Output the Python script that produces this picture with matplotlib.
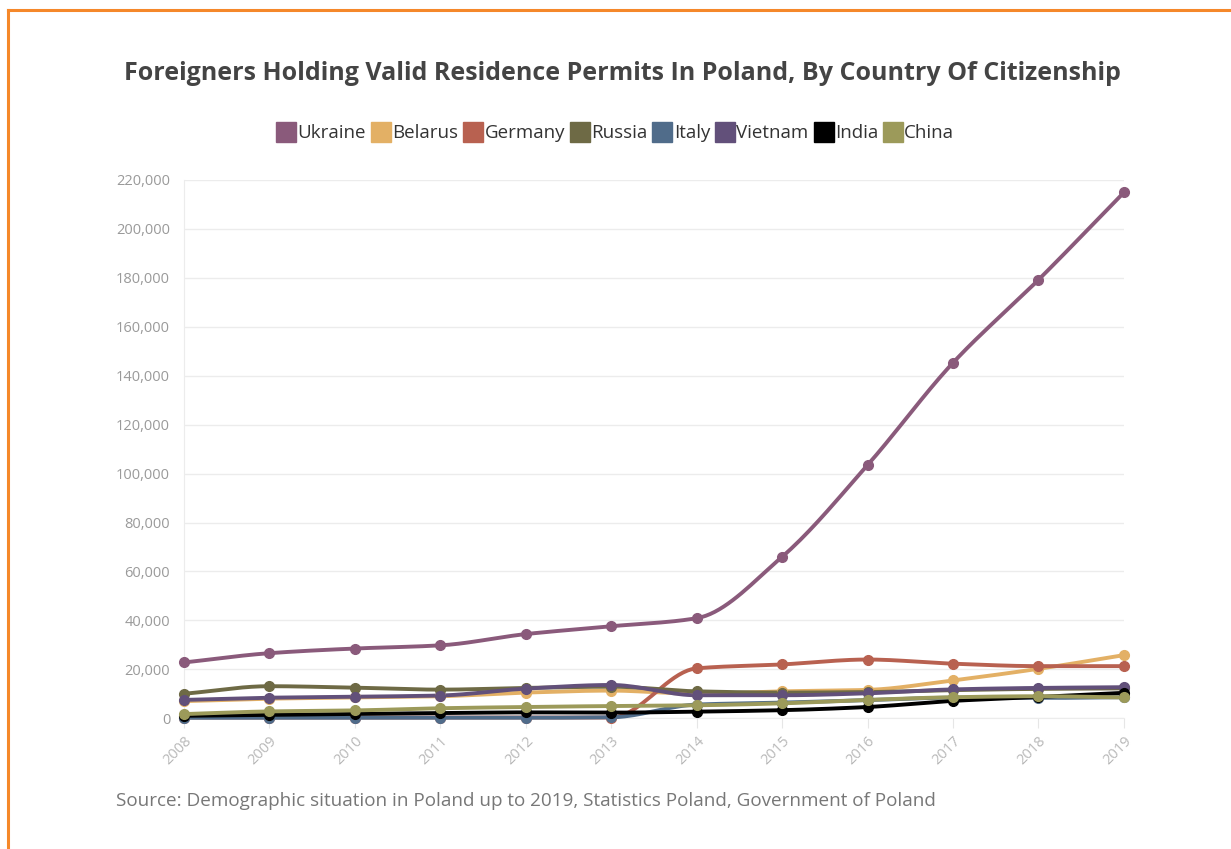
import matplotlib.pyplot as plt
import numpy as np
from matplotlib.lines import Line2D

plt.rcParams['font.family'] = ['Open Sans', 'DejaVu Sans']

# Data
years = [2008, 2009, 2010, 2011, 2012, 2013, 2014, 2015, 2016, 2017, 2018, 2019]
ukraine = [22800, 26600, 28500, 29800, 34400, 37600, 40900, 66000, 103500, 145300, 179200, 214900]
belarus = [7000, 8000, 8500, 9000, 10500, 11300, 10000, 11000, 11600, 15500, 20200, 25800]
germany = [300, 300, 300, 300, 300, 300, 20400, 22000, 24000, 22300, 21300, 21300]
russia = [10000, 13100, 12500, 11700, 12400, 12900, 11000, 10500, 10700, 11500, 12000, 12200]
italy = [200, 200, 200, 200, 200, 400, 5600, 6400, 7400, 8400, 8300, 8600]
vietnam = [7500, 8400, 8800, 9300, 12100, 13600, 9400, 9400, 10200, 11800, 12400, 12700]
india = [1000, 1400, 1800, 2100, 2400, 2300, 2700, 3300, 4600, 7100, 8700, 10400]
china = [1700, 2800, 3200, 4100, 4600, 5000, 5300, 6100, 7500, 8600, 9000, 8500]

names = ['Ukraine', 'Belarus', 'Germany', 'Russia', 'Italy', 'Vietnam', 'India', 'China']
series = [ukraine, belarus, germany, russia, italy, vietnam, india, china]
colors = ['#8a5a7b', '#e3b065', '#b86150', '#6e6a45', '#506c8a', '#62507a', '#000000', '#9c9a5a']


def smooth(x, y, n=20):
    # monotone cubic (Fritsch-Carlson) curve through the data points, for drawing only
    x = np.asarray(x, float)
    y = np.asarray(y, float)
    h = np.diff(x)
    d = np.diff(y) / h
    m = np.zeros_like(y)
    m[0], m[-1] = d[0], d[-1]
    for i in range(1, len(y) - 1):
        if d[i - 1] * d[i] <= 0:
            m[i] = 0
        else:
            m[i] = 2 / (1 / d[i - 1] + 1 / d[i])
    xs, ys = [], []
    for i in range(len(x) - 1):
        t = np.linspace(0, 1, n)
        h00 = 2 * t**3 - 3 * t**2 + 1
        h10 = t**3 - 2 * t**2 + t
        h01 = -2 * t**3 + 3 * t**2
        h11 = t**3 - t**2
        xs.append(x[i] + t * h[i])
        ys.append(h00 * y[i] + h10 * h[i] * m[i] + h01 * y[i + 1] + h11 * h[i] * m[i + 1])
    return np.concatenate(xs), np.concatenate(ys)


fig = plt.figure(figsize=(12.31, 8.49), dpi=100)
ax = fig.add_axes([0.1495, 0.154, 0.7635, 0.634])

for name, vals, c in zip(names, series, colors):
    sx, sy = smooth(years, vals)
    ax.plot(sx, sy, color=c, linewidth=2.8, zorder=3, solid_capstyle='round', clip_on=False)
    ax.plot(years, vals, 'o', color=c, markersize=7, zorder=4, clip_on=False)

ax.set_xlim(2008, 2019)
ax.set_ylim(0, 220000)
ax.set_yticks(np.arange(0, 220001, 20000))
ax.set_yticklabels([f'{v:,}' for v in range(0, 220001, 20000)])
ax.set_xticks(years)
ax.set_xticklabels([str(y) for y in years], rotation=45, ha='right', rotation_mode='anchor')
ax.grid(axis='y', color='#ececec', linewidth=1)
for s in ['top', 'right']:
    ax.spines[s].set_visible(False)
ax.spines['left'].set_color('#ececec')
ax.spines['bottom'].set_color('#ececec')
ax.tick_params(axis='y', length=0, labelsize=10.5, labelcolor='#9a9a9a', pad=10)
ax.tick_params(axis='x', length=7, color='#e6e6e6', labelsize=10.5, labelcolor='#b8b8b8', pad=4)
ax.set_axisbelow(True)

fig.text(0.506, 0.913, 'Foreigners Holding Valid Residence Permits In Poland, By Country Of Citizenship',
         ha='center', va='center', fontsize=18, fontweight='bold', color='#444444')

handles = [Line2D([0], [0], marker='s', linestyle='none', markersize=14,
                  markerfacecolor=c, markeredgecolor=c) for c in colors]
fig.legend(handles, names, loc='center', bbox_to_anchor=(0.5, 0.843), ncol=8, frameon=False,
           fontsize=13.5, handletextpad=0.1, columnspacing=0.3, labelcolor='#333333',
           handlelength=1.0)

fig.text(0.094, 0.057, 'Source: Demographic situation in Poland up to 2019, Statistics Poland, Government of Poland',
         ha='left', va='center', fontsize=13.6, color='#777777')

# orange frame (left and top edges)
fig.add_artist(Line2D([0.0065, 0.0065], [0.0, 0.988], color='#f5882a', linewidth=2.2))
fig.add_artist(Line2D([0.0065, 1.0], [0.988, 0.988], color='#f5882a', linewidth=2.2))

plt.savefig('out.png', dpi=100)
plt.close()
